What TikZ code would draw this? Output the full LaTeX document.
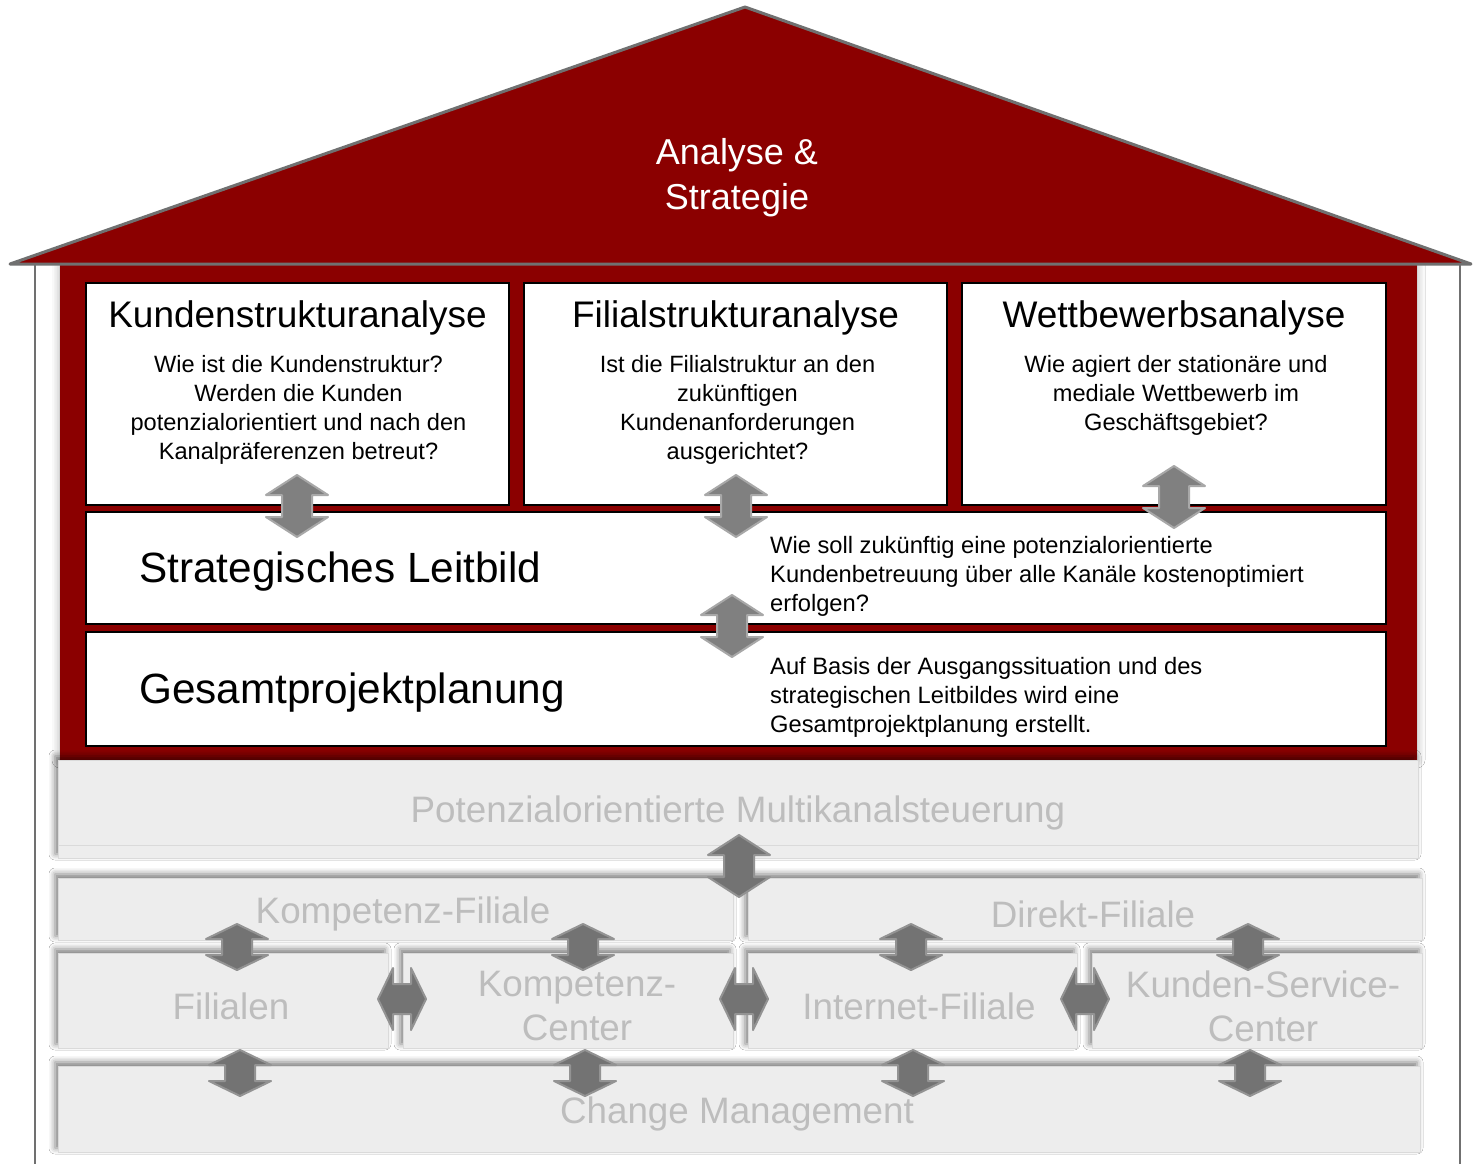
\documentclass[tikz,border=0pt]{standalone}
\usepackage{fontspec}
\setmainfont{Liberation Sans}
\usetikzlibrary{shadows.blur}

\definecolor{dachrot}{HTML}{8B0000}
\definecolor{wandgrau}{HTML}{707070}
\definecolor{kastengrau}{HTML}{EDEDED}
\definecolor{randgrau}{HTML}{DADADA}
\definecolor{schriftgrau}{HTML}{BDBDBD}
\definecolor{pfeilgrau}{HTML}{808080}
\definecolor{pfeilrand}{HTML}{A8A8A8}

% Doppelpfeile: Stil, Mitte, halbe Laenge, Spitzenlaenge
\newcommand{\vpfeil}[4]{\filldraw[#1,shift={(#2)}] (0,-#3) -- (31,{-#3+#4}) -- (15,{-#3+#4}) -- (15,{#3-#4}) -- (31,{#3-#4}) -- (0,#3) -- (-31,{#3-#4}) -- (-15,{#3-#4}) -- (-15,{-#3+#4}) -- (-31,{-#3+#4}) -- cycle;}
\newcommand{\hpfeil}[4]{\filldraw[#1,shift={(#2)}] (-#3,0) -- ({-#3+#4},-31) -- ({-#3+#4},-15) -- ({#3-#4},-15) -- ({#3-#4},-31) -- (#3,0) -- ({#3-#4},31) -- ({#3-#4},15) -- ({-#3+#4},15) -- ({-#3+#4},31) -- cycle;}

\begin{document}
\begin{tikzpicture}[x=1pt, y=-1pt,
		kasten/.style={draw=black, line width=2.5pt, fill=white, inner sep=0pt},
		graukasten/.style={draw=randgrau, line width=1pt, fill=kastengrau, inner sep=0pt,
			blur shadow={shadow xshift=-3pt, shadow yshift=4pt, shadow blur radius=6pt, shadow opacity=50}},
		titel/.style={inner sep=0pt, font=\fontsize{37}{45}\selectfont},
		frage/.style={inner sep=0pt, align=center, font=\fontsize{23.6}{29}\selectfont},
		info/.style={inner sep=0pt, anchor=west, align=left, font=\fontsize{23.7}{29}\selectfont},
		gross/.style={inner sep=0pt, anchor=west, font=\fontsize{42.3}{50}\selectfont},
		grautext/.style={inner sep=0pt, align=center, text=schriftgrau, font=\fontsize{36.8}{44}\selectfont},
		pfeil/.style={fill=pfeilgrau, draw=pfeilrand, line width=2pt, line join=round},
		dunkelpfeil/.style={fill=pfeilgrau!90!black, draw=pfeilgrau!85!white, line width=2pt, line join=round}]
	\useasboundingbox (0,0) rectangle (1473,1164);
	\fill[white] (0,0) rectangle (1473,1164);

	% Waende und Dach
	\draw[wandgrau, line width=2.5pt] (35,264) -- (35,1164);
	\draw[wandgrau, line width=2.5pt] (1460,264) -- (1460,1164);
	\fill[dachrot, blur shadow={shadow xshift=0pt, shadow yshift=0pt, shadow blur radius=8pt, shadow opacity=35}] (60,264) rectangle (1417,760);
	\filldraw[fill=dachrot, draw=wandgrau, line width=3pt, line join=round] (10,264) -- (745,7) -- (1471,264) -- cycle;
	\node[inner sep=0pt, align=center, text=white, font=\fontsize{36}{45}\selectfont] (dach) at (737,178) {Analyse \&\\Strategie};

	% Analysekaesten
	\node[kasten, minimum width=423, minimum height=222] (kunden) at (297.5,394) {};
	\node[kasten, minimum width=423, minimum height=222] (filial) at (735.5,394) {};
	\node[kasten, minimum width=424, minimum height=222] (wettbewerb) at (1174,394) {};
	\node[kasten, minimum width=1300, minimum height=112] (leitbild) at (736,568) {};
	\node[kasten, minimum width=1300, minimum height=114] (gesamt) at (736,689) {};

	\node[titel] (kundentitel) at (297.5,318) {Kundenstrukturanalyse};
	\node[titel] (filialtitel) at (735.5,318) {Filialstrukturanalyse};
	\node[titel] (wettbewerbtitel) at (1174,318) {Wettbewerbsanalyse};
	\node[frage] (kundenfrage) at (298.5,410) {Wie ist die Kundenstruktur?\\Werden die Kunden\\potenzialorientiert und nach den\\Kanalpräferenzen betreut?};
	\node[frage] (filialfrage) at (737.5,410) {Ist die Filialstruktur an den\\zukünftigen\\Kundenanforderungen\\ausgerichtet?};
	\node[frage] (wettbewerbfrage) at (1176,395.5) {Wie agiert der stationäre und\\mediale Wettbewerb im\\Geschäftsgebiet?};

	\node[gross] (leitbildtitel) at (139,572) {Strategisches Leitbild};
	\node[info] (leitbildtext) at (770,576) {Wie soll zukünftig eine potenzialorientierte\\Kundenbetreuung über alle Kanäle kostenoptimiert\\erfolgen?};
	\node[gross] (gesamttitel) at (139,693) {Gesamtprojektplanung};
	\node[info] (gesamttext) at (770,697) {Auf Basis der Ausgangssituation und des\\strategischen Leitbildes wird eine\\Gesamtprojektplanung erstellt.};

	% Umsetzung (grau)
	\node[graukasten, minimum width=1360, minimum height=98] (potenzial) at (738,809) {};
	\draw[randgrau, line width=1pt] (potenzial.west |- 0,845) -- (potenzial.east |- 0,845);
	\node[graukasten, minimum width=675, minimum height=62] (kompfil) at (395.5,909) {};
	\node[graukasten, minimum width=674, minimum height=62] (direkt) at (1085,909) {};
	\node[graukasten, minimum width=330, minimum height=95] (filialen) at (223,1000.5) {};
	\node[graukasten, minimum width=330, minimum height=95] (kompcenter) at (568,1000.5) {};
	\node[graukasten, minimum width=329, minimum height=95] (internet) at (912.5,1000.5) {};
	\node[graukasten, minimum width=330, minimum height=95] (kundenservice) at (1257,1000.5) {};
	\node[graukasten, minimum width=1362, minimum height=86] (change) at (739,1109) {};

	\node[grautext] (potenzialtext) at (738,813) {Potenzialorientierte Multikanalsteuerung};
	\node[grautext] (kompfiltext) at (403,914) {Kompetenz-Filiale};
	\node[grautext] (direkttext) at (1093,914) {Direkt-Filiale};
	\node[grautext] (filialentext) at (231,1006) {Filialen};
	\node[grautext] (kompcentertext) at (577,1006) {Kompetenz-\\Center};
	\node[grautext] (internettext) at (919,1006) {Internet-Filiale};
	\node[grautext] (kundenservicetext) at (1263,1006) {Kunden-Service-\\Center};
	\node[grautext] (changetext) at (737,1114) {Change Management};

	% Pfeile
	\foreach \p in {{297,506},{736,506},{1174,497},{732,626}}
		{\vpfeil{pfeil}{\p}{31}{20}}
	\vpfeil{dunkelpfeil}{739,866}{31}{20}
	\foreach \p in {{237,947},{583,947},{911,947},{1248,947},{240,1073},{585,1073},{913,1073},{1250,1073}}
		{\vpfeil{dunkelpfeil}{\p}{23}{15}}
	\foreach \p in {{402,999},{744,999},{1085,999}}
		{\hpfeil{dunkelpfeil}{\p}{24}{15}}
\end{tikzpicture}
\end{document}
